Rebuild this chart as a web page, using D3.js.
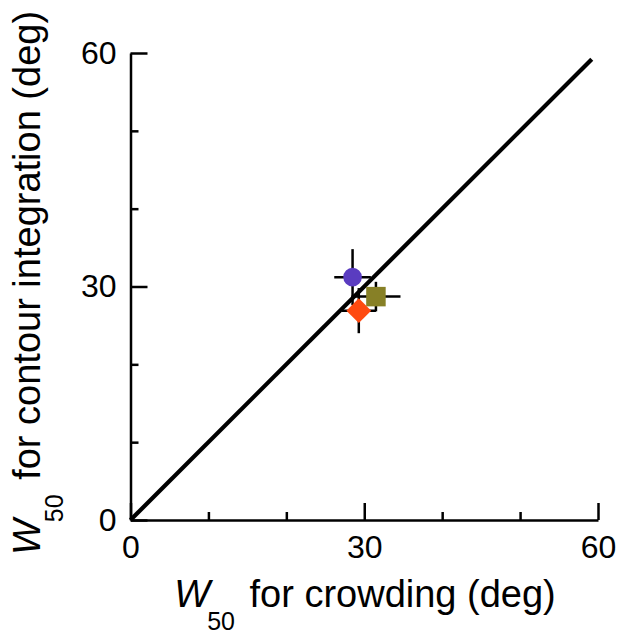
<!DOCTYPE html>
<html>
<head>
<meta charset="utf-8">
<script src="https://cdn.jsdelivr.net/npm/d3@7"></script>
<style>
  html, body { margin: 0; padding: 0; background: #fff; }
  svg { display: block; }
  text { font-family: "Liberation Sans", Arial, Helvetica, sans-serif; fill: #000; }
</style>
</head>
<body>
<svg id="chart" width="624" height="640"></svg>
<script>
// ---- data ----
const conditions = ["circle", "square", "diamond"];
const crowdingW50 = [28.5, 31.5, 29.3];
const crowdingErr = [2.35, 3.15, 2.2];
const contourW50 = [31.2, 28.7, 26.9];
const contourErr = [3.6, 1.9, 2.9];
const markerColors = ["#5a3cc0", "#878026", "#ff4a10"];
const majorTicks = [0, 30, 60];
const minorTicks = [10, 20, 40, 50];
const identityLine = [0, 59.2];
const axisDomain = [0, 60];

const svg = d3.select("#chart");
const x = d3.scaleLinear().domain(axisDomain).range([130.5, 598]);
const y = d3.scaleLinear().domain(axisDomain).range([520, 53]);

// minor ticks
svg.append("g").attr("transform", `translate(0,${y(0)})`)
  .call(d3.axisBottom(x).tickValues(minorTicks).tickSize(-8).tickFormat(""))
  .call(g => g.select(".domain").remove());
svg.append("g").attr("transform", `translate(${x(0)},0)`)
  .call(d3.axisLeft(y).tickValues(minorTicks).tickSize(-8).tickFormat(""))
  .call(g => g.select(".domain").remove());

// major axes
const xAxis = svg.append("g").attr("transform", `translate(0,${y(0)})`)
  .call(d3.axisBottom(x).tickValues(majorTicks).tickSize(-17).tickSizeOuter(0).tickPadding(15).tickFormat(d3.format("d")));
const yAxis = svg.append("g").attr("transform", `translate(${x(0)},0)`)
  .call(d3.axisLeft(y).tickValues(majorTicks).tickSize(-17).tickSizeOuter(0).tickPadding(14).tickFormat(d3.format("d")));

[xAxis, yAxis].forEach(g => {
  g.selectAll("path, line").attr("stroke", "#000").attr("stroke-width", 2.5);
  g.selectAll("text").attr("font-size", 32).attr("font-family", '"Liberation Sans", Arial, sans-serif').attr("fill", "#000");
});
svg.selectAll("g line").attr("stroke", "#000").attr("stroke-width", 2.5);

// identity line
svg.append("line")
  .attr("x1", x(identityLine[0])).attr("y1", y(identityLine[0]))
  .attr("x2", x(identityLine[1])).attr("y2", y(identityLine[1]))
  .attr("stroke", "#000").attr("stroke-width", 4.2);

// error bars
const pts = conditions.map((c, i) => ({
  shape: c, x: crowdingW50[i], xe: crowdingErr[i], y: contourW50[i], ye: contourErr[i], color: markerColors[i]
}));
const eb = svg.append("g").attr("stroke", "#000").attr("stroke-width", 2.5);
pts.forEach(p => {
  eb.append("line").attr("x1", x(p.x - p.xe)).attr("x2", x(p.x + p.xe)).attr("y1", y(p.y)).attr("y2", y(p.y));
  eb.append("line").attr("x1", x(p.x)).attr("x2", x(p.x)).attr("y1", y(p.y - p.ye)).attr("y2", y(p.y + p.ye));
});

// markers
const symMap = { circle: d3.symbolCircle, square: d3.symbolSquare, diamond: d3.symbolSquare };
const sizeMap = { circle: Math.PI * 9.3 * 9.3, square: 19.5 * 19.5, diamond: 17.5 * 17.5 };
svg.append("g").selectAll("path").data(pts).join("path")
  .attr("d", p => d3.symbol().type(symMap[p.shape]).size(sizeMap[p.shape])())
  .attr("transform", p => `translate(${x(p.x)},${y(p.y)})` + (p.shape === "diamond" ? " rotate(45)" : ""))
  .attr("fill", p => p.color);

// axis titles
function title(sel, rest) {
  sel.append("tspan").attr("font-style", "italic").text("W");
  sel.append("tspan").attr("font-size", 25).attr("dy", 23).attr("dx", -3).text("50");
  sel.append("tspan").attr("dy", -23).attr("dx", 4).text(" " + rest);
}
const xt = svg.append("text").attr("font-size", 38).attr("text-anchor", "middle")
  .attr("x", 365).attr("y", 607);
title(xt, "for crowding (deg)");

const yt = svg.append("text").attr("font-size", 38).attr("text-anchor", "middle")
  .attr("transform", "translate(40,283) rotate(-90)");
title(yt, "for contour integration (deg)");
</script>
</body>
</html>
